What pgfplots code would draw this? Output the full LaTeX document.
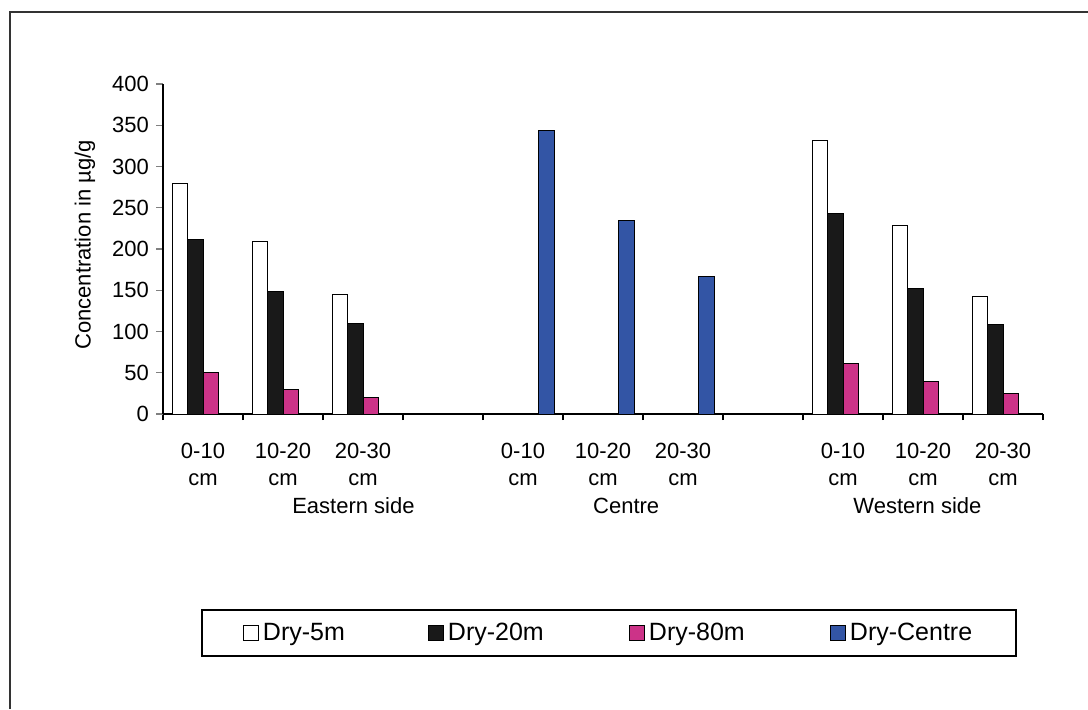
\documentclass[border=0pt]{standalone}
\usepackage{fontspec}
\setmainfont{Liberation Sans}
\usepackage{pgfplots}
\pgfplotsset{compat=1.18}

\definecolor{barpink}{RGB}{204,51,136}
\definecolor{barblue}{RGB}{51,85,165}
\definecolor{barblack}{RGB}{25,25,25}

\begin{document}
\begin{tikzpicture}[font=\fontsize{11}{12.5}\selectfont]
\useasboundingbox (0,0) rectangle (544pt,354.5pt);
% outer frame (only left and top edges show in the crop)
\draw[line width=1pt, black!80] (5pt,0) -- (5pt,348.5pt) -- (544pt,348.5pt);

\begin{axis}[
    at={(81.5pt,147.5pt)}, anchor=south west,
    scale only axis, width=440pt, height=165pt,
    clip=false,
    xmin=-0.5, xmax=10.5, ymin=0, ymax=400,
    axis x line*=bottom, axis y line*=left,
    axis line style={line width=0.7pt},
    ybar=0pt, bar width=7.75pt,
    ytick={0,50,...,400},
    xtick={0,1,2,4,5,6,8,9,10},
    xticklabels={{0-10\\cm},{10-20\\cm},{20-30\\cm},
                 {0-10\\cm},{10-20\\cm},{20-30\\cm},
                 {0-10\\cm},{10-20\\cm},{20-30\\cm}},
    xticklabel style={align=center, yshift=-7.5pt, font=\fontsize{11}{13.5}\selectfont},
    minor xtick={-0.5,0.5,...,10.5},
    tick align=outside,
    major tick length=3.5pt, minor tick length=3pt,
    major x tick style={draw=none},
    minor x tick style={draw=black, line width=0.7pt},
    ytick style={line width=0.7pt},
    /pgf/number format/assume math mode=true,
    ylabel={Concentration in µg/g},
    every axis y label/.style={at={(axis description cs:-0.0886,0.5125)}, rotate=90, anchor=center},
    legend columns=4,
    legend image code/.code={\draw[#1] (0pt,-3.75pt) rectangle (7.5pt,3.75pt);},
    legend style={at={(axis description cs:0.5068,-0.6636)}, anchor=center,
        draw=black, line width=0.9pt, inner xsep=20.5pt, inner ysep=6.5pt,
        nodes={inner sep=0pt},
        font=\fontsize{12.5}{15}\selectfont,
        /tikz/every odd column/.append style={column sep=2pt}},
]
\addplot[fill=white, draw=black, line width=0.5pt] coordinates
    {(0,280) (1,209) (2,145) (8,331) (9,228) (10,142)};
\addplot[fill=barblack, draw=black, line width=0.5pt] coordinates
    {(0,212) (1,148) (2,110) (8,243) (9,152) (10,109)};
\addplot[fill=barpink, draw=black, line width=0.5pt] coordinates
    {(0,50) (1,30) (2,20) (8,61) (9,39) (10,25)};
\addplot[fill=barblue, draw=black, line width=0.5pt] coordinates
    {(4,344) (5,234) (6,167)};
\legend{\makebox[82.5pt][l]{Dry-5m},\makebox[90.5pt][l]{Dry-20m},\makebox[90.5pt][l]{Dry-80m},\makebox[62.5pt][l]{Dry-Centre}}

\node[anchor=base, yshift=-49.5pt] at (axis cs:1.88,0) {Eastern side};
\node[anchor=base, yshift=-49.5pt] at (axis cs:5.29,0) {Centre};
\node[anchor=base, yshift=-49.5pt] at (axis cs:8.93,0) {Western side};
\end{axis}
\end{tikzpicture}
\end{document}
